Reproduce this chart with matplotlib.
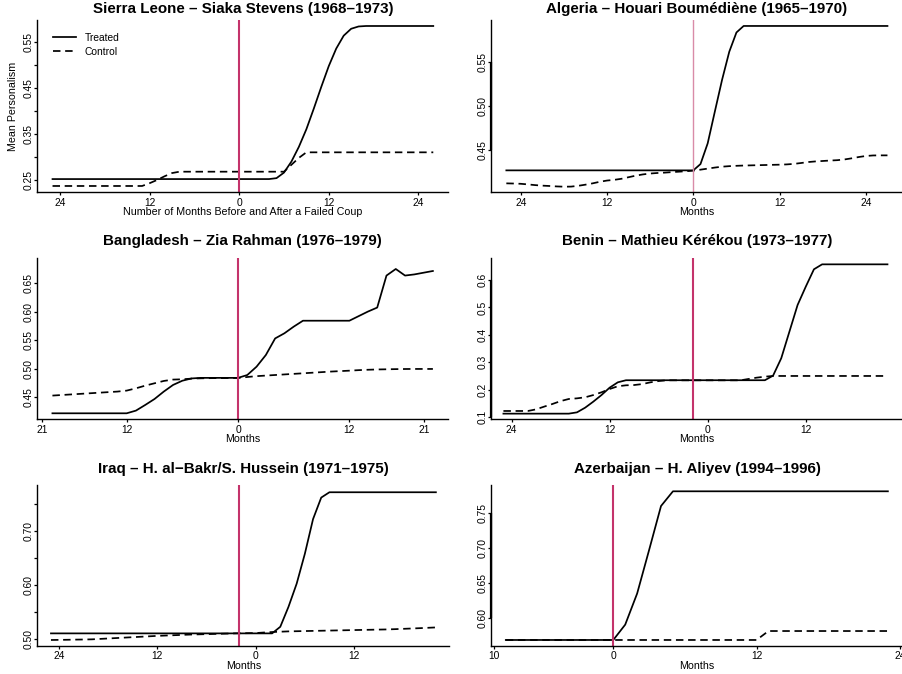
import numpy as np
import matplotlib
matplotlib.use("Agg")
import matplotlib.pyplot as plt

plt.rcParams['font.family'] = ['Liberation Sans', 'DejaVu Sans']

# ---------------- data ----------------
titles = [
    "Sierra Leone \u2013 Siaka Stevens (1968\u20131973)",
    "Algeria \u2013 Houari Boum\u00e9di\u00e8ne (1965\u20131970)",
    "Bangladesh \u2013 Zia Rahman (1976\u20131979)",
    "Benin \u2013 Mathieu K\u00e9r\u00e9kou (1973\u20131977)",
    "Iraq \u2013 H. al\u2212Bakr/S. Hussein (1971\u20131975)",
    "Azerbaijan \u2013 H. Aliyev (1994\u20131996)",
]
xlabels = ["Number of Months Before and After a Failed Coup",
           "Months", "Months", "Months", "Months", "Months"]

# Sierra Leone
sl_months = np.arange(-25, 27)
sl_treated = [0.252] * 30 + [0.254, 0.266, 0.29, 0.322, 0.36, 0.405, 0.452, 0.497,
                             0.535, 0.563, 0.578, 0.583] + [0.584] * 10
sl_control = [0.237] * 13 + [0.243, 0.25, 0.258, 0.265] + [0.268] * 15 + \
             [0.283, 0.298] + [0.31] * 18
sl_coup = 0

# Algeria
al_months = np.arange(-26, 28)
al_treated = [0.4268] * 27 + [0.434, 0.4576, 0.494, 0.530, 0.562, 0.584] + [0.5914] * 21
al_control = [0.412, 0.4118, 0.4115, 0.4108, 0.4100, 0.4094, 0.4090, 0.4085, 0.4082,
              0.4083, 0.4092, 0.4105, 0.4120, 0.4138, 0.4152, 0.4160, 0.4172, 0.4190,
              0.4208, 0.4222, 0.4232, 0.4238, 0.4242, 0.4248, 0.4253, 0.4258, 0.4265,
              0.4276, 0.4288, 0.4300, 0.4310, 0.4316, 0.4320, 0.4323, 0.4325, 0.4327,
              0.4329, 0.4331, 0.4333, 0.4336, 0.4342, 0.4352, 0.4363, 0.4370, 0.4375,
              0.4380, 0.4384, 0.4392, 0.4405, 0.4420, 0.4432, 0.4438, 0.4439, 0.4439]
al_coup = 0

# Bangladesh
bd_months = np.arange(-20, 22)
bd_treated = [0.422] * 9 + [0.4267, 0.4366, 0.447, 0.460, 0.4716, 0.479, 0.483] + \
             [0.484] * 5 + [0.489, 0.5036, 0.524, 0.553, 0.562, 0.5736] + [0.584] * 6 + \
             [0.592, 0.600, 0.607, 0.663, 0.6745, 0.663, 0.665, 0.668, 0.671]
bd_control = [0.453, 0.454, 0.455, 0.456, 0.457, 0.458, 0.459, 0.460, 0.4617, 0.4657,
              0.4704, 0.4745, 0.4786, 0.481, 0.4815, 0.4827, 0.4832, 0.4835, 0.4836,
              0.4837, 0.4838, 0.4855, 0.4870, 0.4880, 0.489, 0.490, 0.491, 0.492, 0.493,
              0.494, 0.495, 0.4958, 0.4966, 0.4975, 0.4982, 0.4987, 0.499, 0.4993,
              0.4995, 0.4996, 0.4996, 0.4996]
bd_coup = 0

# Benin
bn_months = np.arange(-25, 23)
bn_treated = [0.1133] * 9 + [0.118, 0.135, 0.157, 0.181, 0.208, 0.2274] + [0.235] * 18 + \
             [0.2517, 0.315, 0.412, 0.509, 0.5757, 0.639] + [0.657] * 9
bn_control = [0.123, 0.123, 0.123, 0.123, 0.129, 0.139, 0.1485, 0.159, 0.1667, 0.169,
              0.1728, 0.181, 0.191, 0.203, 0.213, 0.2165, 0.2175, 0.221, 0.2274, 0.232] + \
             [0.2347] * 10 + [0.2396, 0.2444, 0.248] + [0.2505] * 15
bn_coup = -1.84

# Iraq
iq_months = np.arange(-25, 23)
iq_treated = [0.511] * 28 + [0.5232, 0.56, 0.6028, 0.658, 0.722, 0.7618] + [0.7716] * 14
iq_control = [0.4988, 0.4990, 0.4992, 0.4995, 0.4997, 0.5000, 0.5008, 0.5016, 0.5024,
              0.5032, 0.5040, 0.5048, 0.5056, 0.5064, 0.5070, 0.5076, 0.5082, 0.5088,
              0.5092, 0.5096, 0.5100, 0.5104, 0.5108, 0.5112, 0.5114, 0.5116, 0.5126,
              0.5135, 0.5141, 0.5147, 0.5150, 0.5153, 0.5156, 0.5159, 0.5162, 0.5165,
              0.5168, 0.5171, 0.5174, 0.5177, 0.5180, 0.5183, 0.5188, 0.5194, 0.5200,
              0.5206, 0.5213, 0.5220]
iq_coup = -2.04

# Azerbaijan
az_months = np.arange(-9, 24)
az_treated = [0.5686] * 10 + [0.5905, 0.635, 0.697, 0.76] + [0.781] * 19
az_control = [0.5686] * 22 + [0.5814] * 11
az_coup = 0

months = [sl_months, al_months, bd_months, bn_months, iq_months, az_months]
treated = [sl_treated, al_treated, bd_treated, bn_treated, iq_treated, az_treated]
control = [sl_control, al_control, bd_control, bn_control, iq_control, az_control]
coups = [sl_coup, al_coup, bd_coup, bn_coup, iq_coup, az_coup]

xtick_pos = [[-24, -12, 0, 12, 24], [-24, -12, 0, 12, 24], [-21.15, -12, 0, 12, 20.05],
             [-24, -12, 0, 12], [-24, -12, 0, 12], [-10, 0, 12, 24]]
xtick_lab = [["24", "12", "0", "12", "24"], ["24", "12", "0", "12", "24"],
             ["21", "12", "0", "12", "21"], ["24", "12", "0", "12"],
             ["24", "12", "0", "12"], ["10", "0", "12", "24"]]
ytick_pos = [[0.25, 0.30, 0.35, 0.40, 0.45, 0.50, 0.55], [0.45, 0.50, 0.55],
             [0.45, 0.50, 0.55, 0.60, 0.65], [0.1, 0.2, 0.3, 0.4, 0.5, 0.6],
             [0.50, 0.55, 0.60, 0.65, 0.70, 0.75], [0.60, 0.65, 0.70, 0.75]]
ytick_lab = [["0.25", "", "0.35", "", "0.45", "", "0.55"], ["0.45", "0.50", "0.55"],
             ["0.45", "0.50", "0.55", "0.60", "0.65"],
             ["0.1", "0.2", "0.3", "0.4", "0.5", "0.6"],
             ["0.50", "", "0.60", "", "0.70", ""], ["0.60", "0.65", "0.70", "0.75"]]

# ---------------- layout (pixels) ----------------
W, H = 902, 674
boxes = [(37.3, 20, 448.5, 192.3), (491.1, 20, 902.7, 192.3),
         (37.3, 258.3, 448.1, 419.3), (491, 258.3, 903, 419.3),
         (37.3, 485, 449.4, 646), (491, 485, 903.4, 646)]
xlims = [(-27.04, 28.04), (-28.12, 29.12), (-21.63, 22.64),
         (-26.52, 23.9), (-26.67, 23.65), (-10.24, 24.3)]
ylims = [(0.2233, 0.597), (0.4018, 0.5982), (0.4115, 0.6932),
         (0.0927, 0.679), (0.4877, 0.785), (0.56, 0.79)]
title_gap = [11.5, 11.5, 17.3, 17.3, 16.5, 16.5]
vline_color = ["#C4336B", "#D98BA8", "#C4336B", "#C4336B", "#C4336B", "#C4336B"]
vline_lw = [1.5, 1.0, 1.5, 1.5, 1.5, 1.5]

fig = plt.figure(figsize=(W / 100, H / 100), dpi=100)

for i in range(6):
    l, t, r, b = boxes[i]
    ax = fig.add_axes([l / W, 1 - b / H, (r - l) / W, (b - t) / H])
    hpx = b - t
    ax.plot(months[i], treated[i], color="black", lw=1.25, solid_joinstyle="round",
            label="Treated")
    ax.plot(months[i], control[i], color="black", lw=1.25, dashes=(4.3, 2.7),
            label="Control")
    ax.axvline(coups[i], color=vline_color[i], lw=vline_lw[i])
    ax.set_xlim(*xlims[i])
    ax.set_ylim(*ylims[i])
    for s in ["top", "right"]:
        ax.spines[s].set_visible(False)
    for s in ["left", "bottom"]:
        ax.spines[s].set_linewidth(1.0)
    ax.set_xticks(xtick_pos[i])
    ax.set_xticklabels(xtick_lab[i])
    ax.set_yticks(ytick_pos[i])
    ax.set_yticklabels(ytick_lab[i], rotation=90, va="center")
    ax.tick_params(axis="both", length=2.4, width=0.9, labelsize=7.4, direction="out")
    ax.tick_params(axis="x", pad=1.4)
    ax.tick_params(axis="y", pad=0.2)
    if i % 2 == 1:
        ax.plot([0, 0], [ytick_pos[i][0], ytick_pos[i][-1]], color="black", lw=1.6,
                transform=ax.get_yaxis_transform(), clip_on=False,
                solid_capstyle="butt")
    ax.set_xlabel(xlabels[i], fontsize=7.65)
    ax.xaxis.label.set_va("center")
    ax.xaxis.set_label_coords(0.5, -19.6 / hpx)
    ax.text(0.5, 1 + title_gap[i] / hpx, titles[i], transform=ax.transAxes,
            ha="center", va="center", fontsize=10.9, fontweight="bold")
    if i == 0:
        ax.set_ylabel("Mean Personalism", fontsize=7.65)
        ax.yaxis.label.set_va("center")
        ax.yaxis.set_label_coords(-24.0 / (r - l), 0.5)
        ax.legend(loc="upper left", bbox_to_anchor=(16 / (r - l), 1 - 13 / hpx),
                  frameon=False, fontsize=7.4, handlelength=2.2, handletextpad=0.85,
                  labelspacing=0.35, borderpad=0, borderaxespad=0)

fig.savefig("out.png", dpi=100)
